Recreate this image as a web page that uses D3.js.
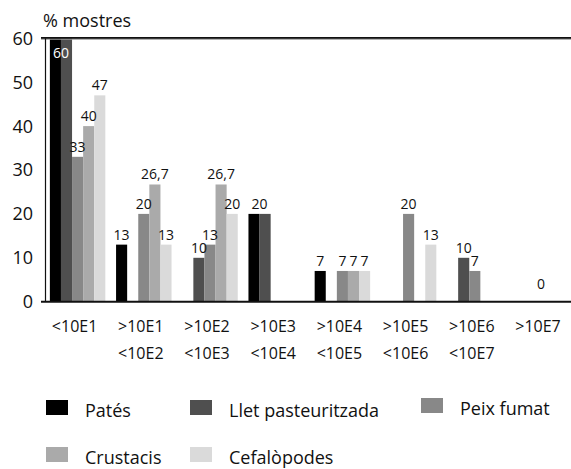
<!DOCTYPE html>
<html>
<head>
<meta charset="utf-8">
<script src="https://cdn.jsdelivr.net/npm/d3@7"></script>
<style>
  html, body { margin: 0; padding: 0; background: #fff; }
  svg { display: block; font-family: "Open Sans", "Noto Sans", sans-serif; }
</style>
</head>
<body>
<svg id="chart" width="571" height="469"></svg>
<script>
// Categories (two-line axis labels)
const catLine1 = ["<10E1", ">10E1", ">10E2", ">10E3", ">10E4", ">10E5", ">10E6", ">10E7"];
const catLine2 = ["", "<10E2", "<10E3", "<10E4", "<10E5", "<10E6", "<10E7", ""];
const categories = catLine1.map((d, i) => d + " " + catLine2[i]);

// Series: % of samples per count range
const seriesNames = ["Patés", "Llet pasteuritzada", "Peix fumat", "Crustacis", "Cefalòpodes"];
const seriesColors = ["#000000", "#4f4f4f", "#888888", "#aaaaaa", "#dadada"];
const pates       = [60, 13, 0, 20, 7, 0, 0, 0];
const lletPast    = [60, 0, 10, 20, 0, 0, 10, 0];
const peixFumat   = [33, 20, 13, 0, 7, 20, 7, 0];
const crustacis   = [40, 26.7, 26.7, 0, 7, 0, 0, 0];
const cefalopodes = [47, 13, 20, 0, 7, 13, 0, 0];
const seriesValues = [pates, lletPast, peixFumat, crustacis, cefalopodes];

const yTicks = [0, 10, 20, 30, 40, 50, 60];
const yTitle = "% mostres";

const svg = d3.select("#chart");
const plot = { left: 45.5, right: 574, top: 38.3, bottom: 301.7 };

const x0 = d3.scaleBand().domain(categories)
  .range([44.5, 574.1]).paddingInner(0.162).paddingOuter(0.081);
const x1 = d3.scaleBand().domain(seriesNames).range([0, x0.bandwidth()]);
const y = d3.scaleLinear().domain([0, 60]).range([plot.bottom, plot.top]);

const fmt = v => String(v).replace(".", ",");

// Bars
const bars = [];
seriesNames.forEach((s, si) => {
  seriesValues[si].forEach((v, ci) => {
    bars.push({ s, si, c: categories[ci], ci, v });
  });
});

svg.append("g").selectAll("rect")
  .data(bars.filter(d => d.v > 0))
  .join("rect")
  .attr("x", d => x0(d.c) + x1(d.s))
  .attr("y", d => y(d.v))
  .attr("width", x1.bandwidth())
  .attr("height", d => y(0) - y(d.v))
  .attr("fill", d => seriesColors[d.si]);

// Value labels; equal Patés / Llet pairs share one label centred over both bars
const labels = [];
bars.filter(d => d.v > 0).forEach(d => {
  if (d.si === 1 && pates[d.ci] === d.v) return;
  let cx = x0(d.c) + x1(d.s) + x1.bandwidth() / 2;
  if (d.si === 0 && lletPast[d.ci] === d.v) cx = x0(d.c) + x1(seriesNames[1]);
  const inside = y(d.v) - 16 < plot.top;
  labels.push({ text: fmt(d.v), x: cx, y: inside ? y(d.v) + 20 : y(d.v) - 5, color: inside ? "#fff" : "#111" });
});
// Categories with no positive value get a single "0" at their centre
categories.forEach((c, ci) => {
  if (seriesValues.every(arr => arr[ci] === 0)) {
    labels.push({ text: "0", x: x0(c) + x0.bandwidth() / 2, y: y(0) - 13, color: "#111" });
  }
});

svg.append("g").selectAll("text")
  .data(labels)
  .join("text")
  .attr("x", d => d.x)
  .attr("y", d => d.y)
  .attr("text-anchor", "middle")
  .attr("font-size", 14)
  .attr("fill", d => d.color)
  .text(d => d.text);

// Axes frame
const axisG = svg.append("g");
axisG.append("line")
  .attr("x1", 41).attr("x2", 571).attr("y1", y(60) + 0.7).attr("y2", y(60) + 0.7)
  .attr("stroke", "#999").attr("stroke-width", 1.4);
axisG.append("line")
  .attr("x1", 41).attr("x2", 571).attr("y1", y(60) - 0.4).attr("y2", y(60) - 0.4)
  .attr("stroke", "#111").attr("stroke-width", 1.6);
axisG.append("line")
  .attr("x1", plot.left).attr("x2", plot.left).attr("y1", y(60)).attr("y2", y(0))
  .attr("stroke", "#111").attr("stroke-width", 1.2);
axisG.append("line")
  .attr("x1", 41).attr("x2", 571).attr("y1", y(0)).attr("y2", y(0))
  .attr("stroke", "#111").attr("stroke-width", 2);

// Y tick labels
svg.append("g").selectAll("text")
  .data(yTicks)
  .join("text")
  .attr("x", 33)
  .attr("y", d => y(d))
  .attr("dy", "0.36em")
  .attr("text-anchor", "end")
  .attr("font-size", 18)
  .attr("fill", "#111")
  .text(d => d);

svg.append("text")
  .attr("x", 43).attr("y", 27)
  .attr("font-size", 18).attr("fill", "#111")
  .text(yTitle);

// Category labels
const catG = svg.append("g").attr("font-size", 16).attr("fill", "#111").attr("text-anchor", "middle");
categories.forEach((c, i) => {
  const cx = x0(c) + x0.bandwidth() / 2 - 3;
  catG.append("text").attr("x", cx).attr("y", 332).text(catLine1[i]);
  if (catLine2[i]) catG.append("text").attr("x", cx).attr("y", 359).text(catLine2[i]);
});

// Legend
const legendCols = [46, 190, 421];
const legendRows = [400, 447];
const leg = svg.append("g").selectAll("g")
  .data(seriesNames)
  .join("g")
  .attr("transform", (d, i) => `translate(${legendCols[i % 3]},${legendRows[Math.floor(i / 3)] - (i === 2 ? 2 : 0)})`);
leg.append("rect")
  .attr("width", 22).attr("height", 15)
  .attr("fill", (d, i) => seriesColors[i]);
leg.append("text")
  .attr("x", 39).attr("y", 17)
  .attr("font-size", 18).attr("fill", "#111")
  .text(d => d);
</script>
</body>
</html>
